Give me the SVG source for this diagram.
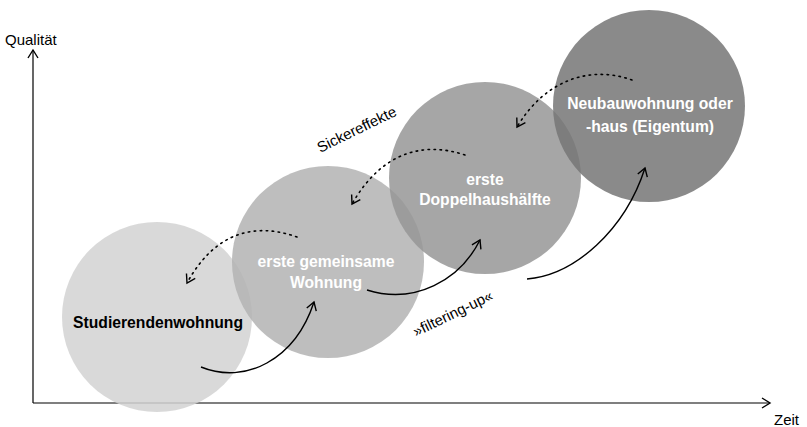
<svg xmlns="http://www.w3.org/2000/svg" width="807" height="427" viewBox="0 0 807 427">
  <style>
    .bubble { fill-opacity: 0.85; }
    .lbl { font-family: "Liberation Sans", Arial, sans-serif; font-weight: bold; font-size: 15.7px; text-anchor: middle; }
    .white { fill: #ffffff; }
    .plain { font-family: "Liberation Sans", Arial, sans-serif; font-size: 15px; fill: #000; }
    .axis { stroke: #000; stroke-width: 1.2; fill: none; }
    .move { stroke: #000; stroke-width: 1.4; fill: none; marker-end: url(#open); }
    .seep { stroke: #000; stroke-width: 1.6; fill: none; stroke-dasharray: 1.5 4.5; stroke-linecap: round; marker-end: url(#dashhead); }
  </style>
  <defs>
    <marker id="open" viewBox="0 0 12 12" refX="10" refY="6" markerWidth="12" markerHeight="12" markerUnits="userSpaceOnUse" orient="auto">
      <path d="M2,1 L10,6 L2,11" fill="none" stroke="#000" stroke-width="1.4"/>
    </marker>
    <marker id="dashhead" viewBox="0 0 12 12" refX="10" refY="6" markerWidth="12" markerHeight="12" markerUnits="userSpaceOnUse" orient="auto">
      <path d="M2,1 L10,6 L2,11" fill="none" stroke="#000" stroke-width="1.4"/>
    </marker>
  </defs>

  <!-- axes -->
  <g id="axes">
    <line class="axis" x1="33" y1="403" x2="33" y2="50" marker-end="url(#open)"/>
    <line class="axis" x1="33" y1="403" x2="770" y2="403" marker-end="url(#open)"/>
    <text class="plain" x="5" y="45">Qualität</text>
    <text class="plain" x="774" y="425">Zeit</text>
  </g>

  <g id="student">
    <circle class="bubble" cx="157" cy="317" r="95" fill="#d2d2d2"/>
  </g>
  <g id="first-shared">
    <circle class="bubble" cx="328" cy="262" r="96" fill="#b3b3b3"/>
  </g>
  <g id="semi-detached">
    <circle class="bubble" cx="485" cy="178" r="96" fill="#979797"/>
  </g>
  <g id="new-build">
    <circle class="bubble" cx="649" cy="106" r="96" fill="#767676"/>
  </g>

  <!-- labels on top of the overlapping circles -->
  <g id="labels">
    <text class="lbl" x="158" y="328" fill="#000">Studierendenwohnung</text>
    <text class="lbl white" x="326" y="267">erste gemeinsame</text>
    <text class="lbl white" x="326" y="288">Wohnung</text>
    <text class="lbl white" x="485" y="185">erste</text>
    <text class="lbl white" x="485" y="205">Doppelhaushälfte</text>
    <text class="lbl white" x="650" y="109">Neubauwohnung oder</text>
    <text class="lbl white" x="650" y="132">-haus (Eigentum)</text>
  </g>

  <g id="connectors">
    <path class="move" d="M201,367 C245,385 295,360 314,302"/>
    <path class="move" d="M367,290 C415,305 460,280 480,240"/>
    <path class="move" d="M527,279 C575,275 625,230 645,168"/>
    <path class="seep" d="M297,237 C255,222 215,232 187,283"/>
    <path class="seep" d="M465,155 C420,140 380,155 352,204"/>
    <path class="seep" d="M632,80 C590,65 545,80 517,127"/>
    <text class="plain" transform="translate(359,134) rotate(-26)" text-anchor="middle">Sickereffekte</text>
    <text class="plain" transform="translate(455,318) rotate(-26)" text-anchor="middle">»filtering-up«</text>
  </g>
</svg>
